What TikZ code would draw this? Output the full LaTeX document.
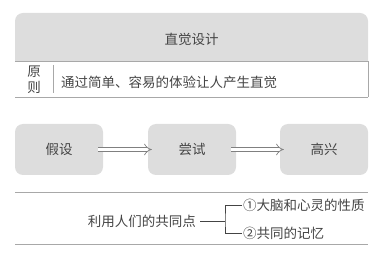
\documentclass[tikz,border=0pt]{standalone}
\usepackage{fontspec}
\newfontfamily\cjk{Noto Sans CJK SC}
\usetikzlibrary{arrows.meta,positioning}

\definecolor{boxgray}{HTML}{DDDDDD}
\definecolor{linegray}{HTML}{A8A8A8}
\definecolor{textgray}{HTML}{444444}

\tikzset{
    cjktext/.style={font=\cjk\fontsize{13.5}{16}\selectfont, text=textgray, inner sep=1pt},
    stagebox/.style={cjktext, fill=boxgray, rounded corners=8pt, minimum width=88pt, minimum height=51pt},
    nextarrow/.style={draw=gray, double=white, double distance=3.4pt, line width=0.7pt, -{Implies[scale=1.3]}},
    rule/.style={draw=linegray, line width=0.8pt}
}

\begin{document}
\begin{tikzpicture}[x=1pt, y=-1pt]
    \useasboundingbox (0,0) rectangle (388,256);

    % Header
    \fill[boxgray] (15,61) [rounded corners=8pt] -- (15,13) -- (368,13) [sharp corners] -- (368,61) -- cycle;
    \node[cjktext] (design) at (191.5,39) {直觉设计};
    \draw[rule] (15,61) -- (368,61) -- (368,97);
    \draw[rule] (15,97) -- (368,97);
    \draw[rule, line width=0.6pt] (53,65) -- (53,93);
    \node[cjktext, align=center] (rule) at (34,80) {原\\则};
    \node[cjktext, anchor=west] (principle) at (60,82) {通过简单、容易的体验让人产生直觉};

    % Stages
    \node[stagebox] (guess) at (59,149.5) {假设};
    \node[stagebox] (try) at (192,149.5) {尝试};
    \node[stagebox] (happy) at (324,149.5) {高兴};
    \draw[nextarrow] ([xshift=-5pt]guess.east) -- ([xshift=4pt]try.west);
    \draw[nextarrow] ([xshift=-5pt]try.east) -- ([xshift=4pt]happy.west);

    % Common points
    \draw[rule] (15,192) -- (368,192);
    \draw[rule] (15,244) -- (368,244);
    \node[cjktext, anchor=east] (common) at (197,221) {利用人们的共同点};
    \node[cjktext, anchor=west] (brain) at (242,205) {①大脑和心灵的性质};
    \node[cjktext, anchor=west] (memory) at (242,233) {②共同的记忆};
    \draw[draw=textgray, line width=0.5pt] ([xshift=3pt]common.east) -- ++(25,0) coordinate (fork);
    \draw[draw=textgray, line width=0.5pt] (brain.west) -| (fork) |- (memory.west);
\end{tikzpicture}
\end{document}
